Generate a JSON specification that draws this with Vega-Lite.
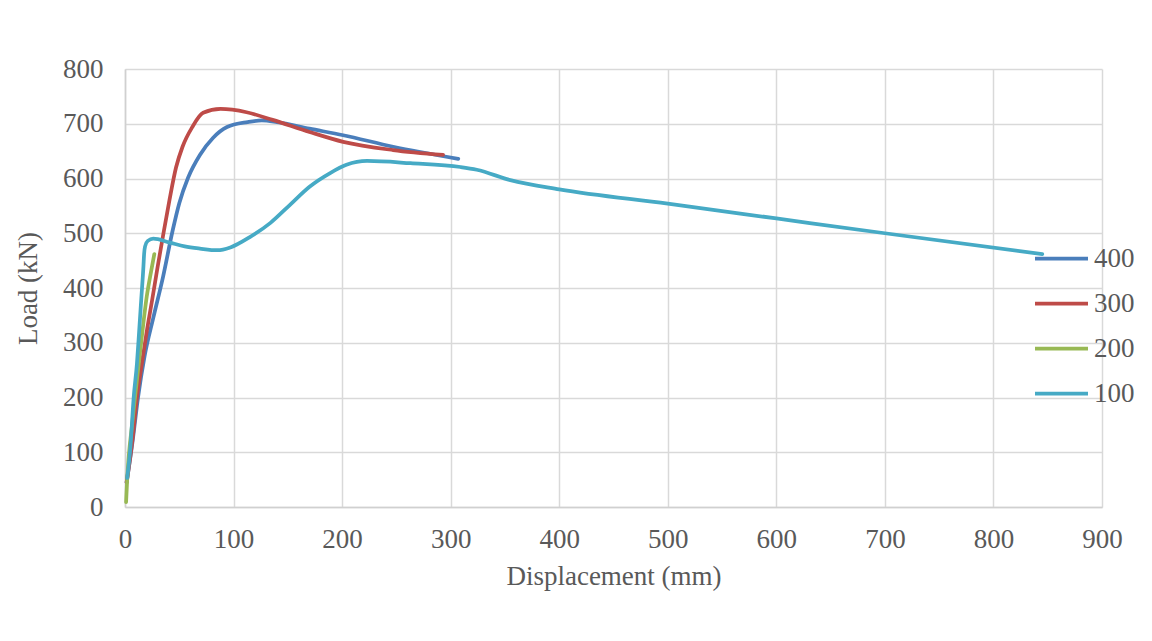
{
  "$schema": "https://vega.github.io/schema/vega-lite/v6.json",
  "autosize": "none",
  "width": 977,
  "height": 438,
  "padding": {"left": 125, "top": 69, "right": 50, "bottom": 134},
  "background": "white",
  "config": {
    "view": {"stroke": null},
    "font": "Liberation Serif",
    "axis": {
      "labelFont": "Liberation Serif",
      "titleFont": "Liberation Serif",
      "labelFontSize": 27,
      "titleFontSize": 27,
      "labelColor": "#595959",
      "titleColor": "#595959",
      "titleFontWeight": "normal",
      "labelFlush": false,
      "ticks": false,
      "gridColor": "#d9d9d9",
      "gridWidth": 1.5,
      "domainColor": "#d0d0d0",
      "domainWidth": 1.5
    },
    "legend": {
      "labelFont": "Liberation Serif",
      "labelFontSize": 27,
      "labelColor": "#595959"
    }
  },
  "data": {
    "values": [
      {"s": "400", "d": 1.5, "L": 45},
      {"s": "400", "d": 7, "L": 120},
      {"s": "400", "d": 12, "L": 200},
      {"s": "400", "d": 18, "L": 275},
      {"s": "400", "d": 26, "L": 345},
      {"s": "400", "d": 35, "L": 420},
      {"s": "400", "d": 44, "L": 506},
      {"s": "400", "d": 50, "L": 555},
      {"s": "400", "d": 58, "L": 601},
      {"s": "400", "d": 69, "L": 643},
      {"s": "400", "d": 81, "L": 674},
      {"s": "400", "d": 94, "L": 694},
      {"s": "400", "d": 113, "L": 703},
      {"s": "400", "d": 126, "L": 706},
      {"s": "400", "d": 140, "L": 703},
      {"s": "400", "d": 170, "L": 691},
      {"s": "400", "d": 201, "L": 679},
      {"s": "400", "d": 247, "L": 658},
      {"s": "400", "d": 307, "L": 636},

      {"s": "300", "d": 1.5, "L": 45},
      {"s": "300", "d": 7, "L": 125},
      {"s": "300", "d": 11, "L": 200},
      {"s": "300", "d": 15, "L": 255},
      {"s": "300", "d": 20, "L": 320},
      {"s": "300", "d": 25, "L": 378},
      {"s": "300", "d": 30, "L": 438},
      {"s": "300", "d": 35, "L": 495},
      {"s": "300", "d": 41, "L": 561},
      {"s": "300", "d": 47, "L": 620},
      {"s": "300", "d": 53, "L": 658},
      {"s": "300", "d": 62, "L": 694},
      {"s": "300", "d": 72, "L": 720},
      {"s": "300", "d": 88, "L": 727},
      {"s": "300", "d": 112, "L": 721},
      {"s": "300", "d": 136, "L": 707},
      {"s": "300", "d": 170, "L": 685},
      {"s": "300", "d": 201, "L": 667},
      {"s": "300", "d": 247, "L": 652},
      {"s": "300", "d": 293, "L": 643},

      {"s": "200", "d": 1, "L": 9},
      {"s": "200", "d": 2, "L": 50},
      {"s": "200", "d": 7, "L": 159},
      {"s": "200", "d": 12, "L": 250},
      {"s": "200", "d": 16, "L": 320},
      {"s": "200", "d": 20, "L": 384},
      {"s": "200", "d": 24, "L": 430},
      {"s": "200", "d": 27, "L": 462},

      {"s": "100", "d": 2, "L": 53},
      {"s": "100", "d": 5, "L": 110},
      {"s": "100", "d": 8, "L": 200},
      {"s": "100", "d": 11, "L": 262},
      {"s": "100", "d": 13, "L": 320},
      {"s": "100", "d": 15, "L": 380},
      {"s": "100", "d": 17, "L": 440},
      {"s": "100", "d": 17.6, "L": 462},
      {"s": "100", "d": 18.5, "L": 476},
      {"s": "100", "d": 21, "L": 486},
      {"s": "100", "d": 26, "L": 490},
      {"s": "100", "d": 41, "L": 483},
      {"s": "100", "d": 55, "L": 476},
      {"s": "100", "d": 69, "L": 472},
      {"s": "100", "d": 85, "L": 469},
      {"s": "100", "d": 97, "L": 474},
      {"s": "100", "d": 115, "L": 493},
      {"s": "100", "d": 134, "L": 519},
      {"s": "100", "d": 152, "L": 552},
      {"s": "100", "d": 170, "L": 585},
      {"s": "100", "d": 189, "L": 610},
      {"s": "100", "d": 204, "L": 625},
      {"s": "100", "d": 223, "L": 632},
      {"s": "100", "d": 263, "L": 628},
      {"s": "100", "d": 309, "L": 621},
      {"s": "100", "d": 324, "L": 616},
      {"s": "100", "d": 355, "L": 597},
      {"s": "100", "d": 400, "L": 580},
      {"s": "100", "d": 500, "L": 554},
      {"s": "100", "d": 600, "L": 527},
      {"s": "100", "d": 700, "L": 500},
      {"s": "100", "d": 845, "L": 462}
    ]
  },
  "mark": {"type": "line", "interpolate": "monotone", "strokeWidth": 3.75, "strokeCap": "round", "strokeJoin": "round"},
  "encoding": {
    "x": {
      "field": "d", "type": "quantitative", "title": "Displacement (mm)",
      "scale": {"domain": [0, 900], "nice": false},
      "axis": {"values": [0, 100, 200, 300, 400, 500, 600, 700, 800, 900], "labelPadding": 19, "titlePadding": 11}
    },
    "y": {
      "field": "L", "type": "quantitative", "title": "Load (kN)",
      "scale": {"domain": [0, 800], "nice": false},
      "axis": {"values": [0, 100, 200, 300, 400, 500, 600, 700, 800], "labelPadding": 22, "titlePadding": 20}
    },
    "color": {
      "field": "s", "type": "nominal",
      "scale": {"domain": ["400", "300", "200", "100"], "range": ["#4A7EBB", "#BE4B48", "#98B954", "#46AAC5"]},
      "legend": {
        "title": null,
        "orient": "none",
        "legendX": 908,
        "legendY": 161,
        "symbolType": "stroke",
        "symbolSize": 2809,
        "symbolStrokeWidth": 3.75,
        "labelOffset": 4,
        "rowPadding": 3
      }
    }
  }
}
